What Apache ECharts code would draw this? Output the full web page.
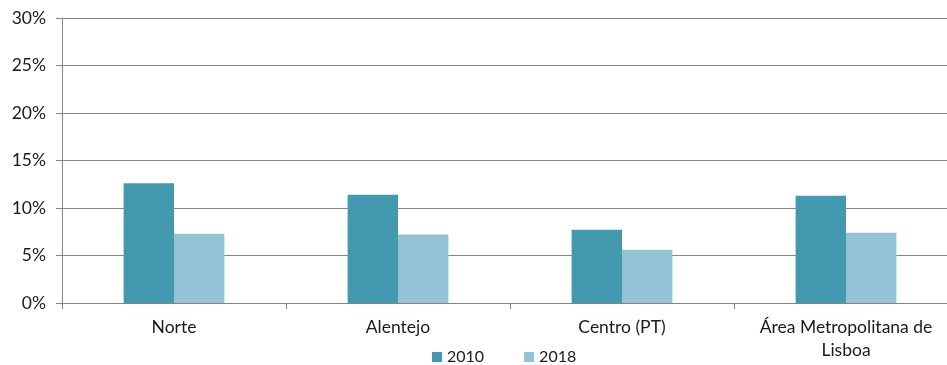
<!DOCTYPE html>
<html><head><meta charset="utf-8">
<script src="https://cdn.jsdelivr.net/npm/echarts@6/dist/echarts.min.js"></script>
<style>html,body{margin:0;padding:0;background:#fff}#c{width:947px;height:365px}</style>
</head><body><div id="c"></div>
<script>
const categories = ["Norte", "Alentejo", "Centro (PT)", "Área Metropolitana de Lisboa"];
const series2010 = [12.6, 11.4, 7.7, 11.3];
const series2018 = [7.3, 7.2, 5.6, 7.4];
const yTicks = [0, 5, 10, 15, 20, 25, 30];

const chart = echarts.init(document.getElementById('c'));
const font = 'Lato, "Open Sans", sans-serif';
chart.setOption({
  animation: false,
  textStyle: { fontFamily: font },
  grid: { left: 62, width: 896, top: 18, height: 285, containLabel: false, outerBoundsMode: 'none' },
  legend: {
    data: ['2010', '2018'], top: 344, left: 427,
    itemWidth: 10, itemHeight: 10, itemGap: 40, icon: 'rect',
    textStyle: { fontSize: 16, color: '#1a1a1a', fontFamily: font }
  },
  xAxis: {
    type: 'category', data: categories,
    axisLine: { lineStyle: { color: '#868686', width: 1 } },
    axisTick: { show: true, length: 6, interval: 0, lineStyle: { color: '#868686' } },
    axisLabel: {
      interval: 0, hideOverlap: false,
      fontSize: 17.5, color: '#1a1a1a', margin: 13, lineHeight: 23, fontFamily: font,
      formatter: v => v.replace(' de Lisboa', ' de\nLisboa')
    }
  },
  yAxis: {
    type: 'value', min: yTicks[0], max: yTicks[yTicks.length - 1], interval: 5,
    axisLine: { show: true, lineStyle: { color: '#868686' } },
    axisTick: { show: true, length: 6, lineStyle: { color: '#868686' } },
    splitLine: { lineStyle: { color: '#868686', width: 1 } },
    axisLabel: { fontSize: 17.5, color: '#1a1a1a', margin: 16, formatter: v => v + '%', fontFamily: font }
  },
  series: [
    { name: '2010', type: 'bar', data: series2010, barGap: '0%', barCategoryGap: '55%',
      itemStyle: { color: '#4399b0' } },
    { name: '2018', type: 'bar', data: series2018, itemStyle: { color: '#94c3d5' } }
  ]
});
</script></body></html>
